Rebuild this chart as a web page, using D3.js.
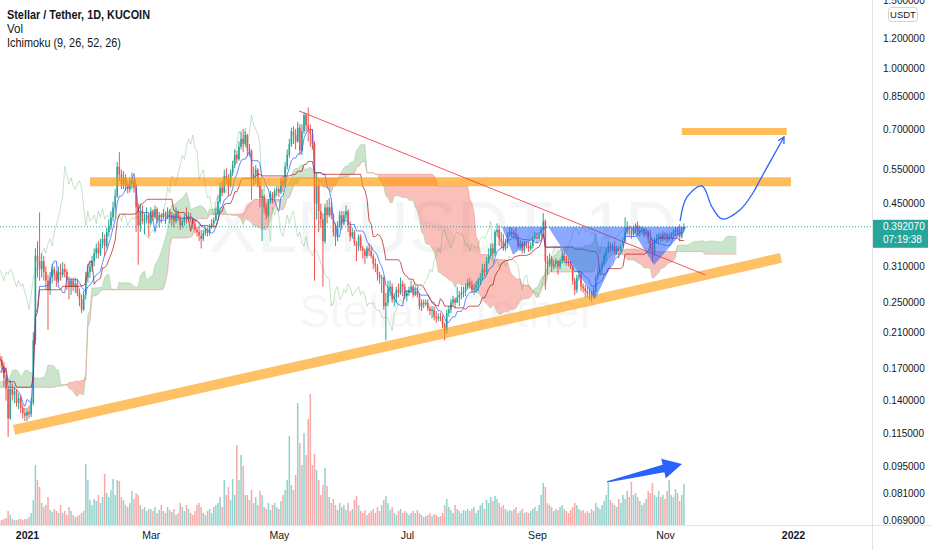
<!DOCTYPE html>
<html><head><meta charset="utf-8">
<script src="https://cdn.jsdelivr.net/npm/d3@7"></script>
<style>
html,body{margin:0;padding:0;background:#fff;}
svg{display:block;}
text{font-family:"Liberation Sans", Arial, sans-serif;}
</style></head><body>
<svg id="chart" width="932" height="550"></svg>
<script>
// ---------------- DATA ----------------
const startDate = "2020-12-19";
const firstOpen = 0.182;
const closes = [
0.178,0.172,0.160,0.150,0.126,0.150,0.145,0.148,0.138,0.142,0.134,0.130,0.128,
0.131,0.129,0.138,0.200,0.330,0.320,0.305,0.320,0.300,0.285,0.270,0.290,0.305,0.295,0.285,0.300,0.295,0.305,0.300,0.285,0.275,0.285,0.275,0.280,0.265,0.255,0.240,0.262,0.290,0.300,0.310,
0.320,0.335,0.345,0.335,0.355,0.365,0.350,0.380,0.395,0.415,0.440,0.470,0.560,0.535,0.505,0.525,0.500,0.490,0.505,0.515,0.495,0.440,0.395,0.430,0.405,0.410,0.420,0.400,
0.430,0.415,0.435,0.410,0.420,0.415,0.425,0.415,0.430,0.410,0.420,0.405,0.425,0.415,0.395,0.405,0.415,0.410,0.418,0.410,0.398,0.385,0.380,0.372,0.365,0.378,0.385,0.378,0.392,0.400,0.408,
0.425,0.455,0.495,0.480,0.530,0.520,0.500,0.540,0.565,0.600,0.585,0.630,0.660,0.640,0.675,0.625,0.615,0.520,0.535,0.550,0.500,0.465,0.470,0.440,0.420,0.455,0.475,0.465,0.485,
0.490,0.480,0.515,0.500,0.560,0.600,0.640,0.690,0.675,0.650,0.705,0.615,0.690,0.760,0.715,0.700,0.680,0.640,0.450,0.500,0.430,0.410,0.360,0.440,0.420,0.440,0.420,0.380,0.370,0.395,0.420,
0.400,0.420,0.430,0.395,0.370,0.380,0.355,0.350,0.370,0.345,0.340,0.330,0.345,0.340,0.330,0.315,0.310,0.295,0.290,0.290,0.245,0.250,0.270,0.275,0.255,0.258,0.270,0.265,0.280,0.275,
0.260,0.265,0.270,0.275,0.262,0.268,0.262,0.245,0.250,0.248,0.250,0.242,0.238,0.240,0.230,0.228,0.230,0.228,0.220,0.212,0.235,0.240,0.250,0.255,0.250,0.258,0.262,0.265,0.268,0.275,0.282,
0.278,0.270,0.272,0.278,0.285,0.290,0.305,0.300,0.320,0.330,0.345,0.335,0.380,0.385,0.365,0.360,0.345,0.355,0.375,0.380,0.375,0.378,0.370,0.350,0.355,0.340,0.355,0.350,0.345,0.350,
0.365,0.370,0.365,0.375,0.385,0.405,0.320,0.315,0.325,0.310,0.315,0.320,0.310,0.320,0.330,0.325,0.320,0.318,0.310,0.285,0.270,0.290,0.295,0.275,0.272,0.268,0.265,0.265,0.258,0.268,
0.290,0.300,0.305,0.315,0.330,0.340,0.350,0.345,0.350,0.340,0.345,0.340,0.350,0.360,0.380,0.390,0.385,0.375,0.385,0.395,0.380,0.382,0.385,0.375,0.380,0.365,0.350,0.335,0.362,0.365,0.372,
0.365,0.375,0.372,0.366,0.370,0.375,0.380,0.386,0.380,0.370,0.385,0.39207
];
const highs = [
0.186,0.182,0.176,0.163,0.152,0.158,0.155,0.152,0.150,0.146,0.144,0.137,0.134,
0.134,0.136,0.142,0.210,0.345,0.360,0.427,0.335,0.330,0.310,0.295,0.300,0.315,0.310,0.302,0.310,0.315,0.318,0.315,0.305,0.292,0.290,0.290,0.290,0.288,0.272,0.262,0.268,0.300,0.315,0.320,
0.330,0.345,0.355,0.360,0.365,0.380,0.375,0.390,0.410,0.430,0.455,0.490,0.575,0.610,0.550,0.545,0.535,0.515,0.525,0.540,0.525,0.505,0.450,0.450,0.445,0.425,0.440,0.425,
0.440,0.435,0.445,0.440,0.428,0.425,0.435,0.430,0.440,0.436,0.428,0.425,0.440,0.432,0.420,0.412,0.422,0.440,0.428,0.425,0.415,0.405,0.392,0.395,0.385,0.385,0.392,0.390,0.398,0.410,0.415,
0.440,0.470,0.510,0.515,0.550,0.555,0.535,0.550,0.580,0.620,0.615,0.650,0.690,0.700,0.690,0.680,0.640,0.620,0.560,0.565,0.555,0.525,0.490,0.475,0.450,0.462,0.485,0.482,0.492,
0.500,0.498,0.525,0.530,0.575,0.620,0.660,0.705,0.710,0.700,0.730,0.720,0.720,0.775,0.770,0.795,0.720,0.700,0.650,0.540,0.520,0.450,0.425,0.450,0.460,0.465,0.455,0.425,0.400,0.405,0.430,
0.430,0.430,0.445,0.435,0.405,0.390,0.385,0.360,0.375,0.375,0.350,0.345,0.350,0.355,0.348,0.335,0.325,0.315,0.300,0.295,0.292,0.265,0.285,0.285,0.280,0.265,0.275,0.280,0.290,0.285,
0.280,0.270,0.275,0.285,0.278,0.275,0.275,0.265,0.255,0.255,0.255,0.255,0.245,0.245,0.245,0.238,0.235,0.236,0.232,0.222,0.240,0.245,0.255,0.260,0.258,0.275,0.268,0.275,0.275,0.280,0.288,
0.290,0.285,0.280,0.285,0.290,0.298,0.315,0.315,0.328,0.345,0.355,0.355,0.385,0.400,0.395,0.380,0.375,0.365,0.380,0.392,0.390,0.385,0.390,0.375,0.362,0.360,0.360,0.360,0.360,0.358,
0.370,0.380,0.378,0.380,0.390,0.425,0.410,0.330,0.335,0.330,0.322,0.325,0.322,0.325,0.335,0.340,0.330,0.325,0.322,0.312,0.290,0.295,0.300,0.300,0.280,0.278,0.275,0.272,0.268,0.275,
0.295,0.310,0.312,0.320,0.335,0.345,0.360,0.358,0.355,0.360,0.350,0.350,0.355,0.368,0.415,0.405,0.395,0.392,0.395,0.400,0.405,0.395,0.392,0.390,0.388,0.385,0.385,0.365,0.368,0.375,0.378,
0.378,0.382,0.380,0.378,0.378,0.380,0.386,0.393,0.392,0.398,0.392,0.400
];
const lows = [
0.170,0.165,0.152,0.140,0.113,0.125,0.140,0.138,0.135,0.133,0.130,0.126,0.124,
0.124,0.126,0.127,0.136,0.195,0.290,0.285,0.290,0.285,0.270,0.213,0.262,0.280,0.285,0.275,0.282,0.285,0.290,0.290,0.270,0.255,0.262,0.268,0.265,0.260,0.245,0.235,0.238,0.255,0.282,0.290,
0.300,0.310,0.325,0.325,0.330,0.345,0.330,0.345,0.370,0.385,0.405,0.430,0.465,0.515,0.490,0.490,0.485,0.478,0.480,0.490,0.480,0.380,0.313,0.380,0.398,0.375,0.400,0.370,
0.395,0.405,0.410,0.400,0.390,0.400,0.410,0.398,0.410,0.400,0.395,0.390,0.400,0.405,0.385,0.390,0.395,0.400,0.405,0.402,0.388,0.378,0.370,0.360,0.345,0.360,0.372,0.370,0.372,0.388,0.390,
0.405,0.420,0.450,0.470,0.478,0.505,0.470,0.495,0.530,0.555,0.570,0.580,0.620,0.610,0.630,0.595,0.595,0.460,0.500,0.505,0.495,0.440,0.360,0.425,0.410,0.415,0.450,0.450,0.455,
0.470,0.468,0.475,0.482,0.495,0.550,0.590,0.630,0.640,0.620,0.645,0.600,0.600,0.680,0.690,0.650,0.630,0.620,0.285,0.410,0.380,0.390,0.275,0.355,0.400,0.415,0.410,0.370,0.350,0.360,0.390,
0.385,0.395,0.410,0.380,0.360,0.365,0.350,0.320,0.340,0.340,0.325,0.315,0.325,0.330,0.325,0.305,0.300,0.285,0.280,0.265,0.240,0.200,0.245,0.260,0.250,0.245,0.250,0.258,0.262,0.260,
0.255,0.252,0.260,0.265,0.258,0.260,0.258,0.240,0.238,0.242,0.245,0.238,0.232,0.228,0.225,0.222,0.224,0.224,0.215,0.200,0.208,0.230,0.235,0.245,0.242,0.250,0.245,0.255,0.258,0.260,0.270,
0.272,0.265,0.262,0.265,0.268,0.278,0.285,0.292,0.295,0.315,0.325,0.325,0.330,0.370,0.350,0.345,0.340,0.340,0.345,0.370,0.368,0.365,0.362,0.345,0.340,0.335,0.335,0.345,0.338,0.340,
0.345,0.360,0.355,0.360,0.370,0.380,0.270,0.295,0.310,0.300,0.305,0.308,0.295,0.305,0.315,0.320,0.312,0.310,0.305,0.278,0.262,0.265,0.285,0.268,0.265,0.258,0.258,0.255,0.252,0.256,
0.265,0.285,0.295,0.298,0.310,0.320,0.335,0.338,0.340,0.335,0.332,0.325,0.335,0.345,0.355,0.375,0.370,0.365,0.370,0.378,0.372,0.370,0.375,0.368,0.370,0.355,0.340,0.318,0.330,0.355,0.355,
0.358,0.360,0.362,0.358,0.360,0.365,0.370,0.372,0.372,0.360,0.366,0.380
];
const volumes = [
4,5,6,7,14,10,6,5,5,6,6,5,6,
6,8,12,25,60,45,38,22,18,20,28,15,13,16,14,12,20,12,14,10,18,14,10,8,9,10,12,14,61,45,25,
20,26,24,30,22,28,51,32,28,35,46,30,45,44,28,25,20,18,22,34,26,32,30,20,16,18,14,16,
16,14,18,12,15,20,14,12,18,15,13,16,10,12,22,18,14,20,16,12,10,14,20,22,18,12,10,14,16,12,18,
20,22,28,18,45,30,38,25,46,30,80,45,70,59,30,30,25,35,22,28,20,34,30,18,16,22,15,20,22,
18,16,24,30,35,45,89,40,35,50,122,82,60,92,70,106,131,60,71,55,45,30,40,57,39,28,22,26,20,15,22,
18,20,15,22,14,16,25,29,20,14,12,15,10,12,14,16,12,18,14,20,25,29,22,15,18,12,10,14,16,12,
14,12,10,12,14,12,15,12,10,8,9,10,12,9,11,10,8,9,12,20,26,18,15,12,20,16,14,12,15,14,16,
14,16,18,12,15,20,22,16,25,22,28,24,29,26,22,18,20,16,14,15,14,16,18,12,14,16,12,13,12,14,
16,18,14,20,30,42,38,22,20,18,14,16,15,18,20,16,14,12,15,18,22,20,16,14,15,12,14,12,16,14,
22,18,16,20,24,30,42,25,22,20,18,26,22,30,26,34,28,43,30,32,28,24,20,22,26,34,32,42,30,28,34,
28,30,26,34,45,30,28,36,32,24,30,41
];
// bars before the first visible candle (Oct 3 - Dec 18, 2020), used only for Ichimoku
const preHighs = [
0.080,0.079,0.080,0.081,0.080,0.081,0.082,0.083,0.082,0.083,0.082,0.081,0.080,0.079,0.079,0.080,0.080,0.079,0.080,0.081,0.082,0.083,0.082,0.081,0.080,0.079,0.078,0.078,0.079,
0.080,0.079,0.080,0.081,0.083,0.086,0.088,0.087,0.089,0.090,0.088,0.090,0.092,0.091,0.093,0.095,0.098,0.100,0.102,0.110,0.140,0.165,0.190,0.230,0.220,0.185,0.170,0.180,0.200,0.195,
0.200,0.175,0.180,0.178,0.172,0.175,0.172,0.168,0.158,0.155,0.152,0.158,0.165,0.165,0.168,0.178,0.190,0.188
];
const preLows = [
0.076,0.075,0.076,0.077,0.076,0.077,0.078,0.079,0.079,0.079,0.078,0.077,0.076,0.075,0.075,0.076,0.076,0.075,0.075,0.077,0.078,0.079,0.078,0.077,0.076,0.075,0.074,0.073,0.075,
0.075,0.075,0.076,0.077,0.078,0.081,0.083,0.082,0.084,0.085,0.084,0.085,0.087,0.086,0.088,0.090,0.092,0.094,0.096,0.100,0.108,0.132,0.150,0.170,0.170,0.130,0.140,0.155,0.165,0.170,
0.165,0.160,0.165,0.155,0.155,0.165,0.160,0.148,0.145,0.145,0.140,0.145,0.152,0.155,0.155,0.160,0.170,0.172
];
const priceTicks = [1.5,1.2,1.0,0.85,0.7,0.55,0.45,0.31,0.25,0.21,0.17,0.14,0.115,0.095,0.081,0.069];
const timeTicks = [["2021-01-01","2021",true],["2021-03-01","Mar",false],["2021-05-01","May",false],["2021-07-01","Jul",false],["2021-09-01","Sep",false],["2021-11-01","Nov",false],["2022-01-01","2022",true]];
const lastPrice = 0.39207, countdown = "07:19:38";
const ichimokuParams = [9, 26, 52, 26];
// drawings: [day offset from 2021-01-01, price]
const supplyZone = [[30,0.512],[364,0.512]];
const targetZone = [[312,0.69],[362,0.69]];
const supportLine = [[-6.2,0.1177],[359.3,0.326]];
const resistanceLine = [[129.6,0.779],[323.1,0.295]];
const hsPattern = [[226.3,0.392],[231.6,0.332],[248.3,0.392],[270.7,0.2556],[287.3,0.392],[298.8,0.3127],[314.5,0.392]];
const projection = [[311.2,0.4058],[314.5,0.468],[321.6,0.4993],[326.4,0.4409],[331.2,0.4107],[339.7,0.4332],[345.9,0.479],[349.3,0.5175],[360.7,0.6676]];
const volumeArrow = [[276.4,0.0865],[312.1,0.0961]];

// ---------------- CHART ----------------
if (highs.length!==closes.length||lows.length!==closes.length||volumes.length!==closes.length||preHighs.length!==preLows.length)
  throw new Error("length mismatch "+[closes.length,highs.length,lows.length,volumes.length,preHighs.length,preLows.length]);

const plotR = 872, plotB = 525;
const svg = d3.select("#chart");
const parse = d3.utcParse("%Y-%m-%d");
const start = parse(startDate);
const N = closes.length;
const dateAt = i => d3.utcDay.offset(start, i);
const dayDate = d => new Date(Date.UTC(2021,0,1) + d*864e5);
const opens = closes.map((c,i)=> i===0 ? firstOpen : closes[i-1]);

const x = d3.scaleUtc().domain([parse("2021-01-01"), parse("2022-01-01")]).range([27, 793]);
const y = d3.scaleLog().domain([0.069, 1.2]).range([520, 38]);
const vy = d3.scaleLinear().domain([0, d3.max(volumes)]).range([plotB, 394]);

svg.append("rect").attr("width",932).attr("height",550).attr("fill","#fff");
svg.append("defs").append("clipPath").attr("id","plot").append("rect").attr("x",0).attr("y",0).attr("width",plotR).attr("height",plotB);
const g = svg.append("g").attr("clip-path","url(#plot)");

// watermark
g.append("text").attr("x",443).attr("y",252).attr("text-anchor","middle").attr("font-size",72)
  .attr("fill","rgba(120,123,134,0.08)").text("XLMUSDT, 1D");
g.append("text").attr("x",447).attr("y",327).attr("text-anchor","middle").attr("font-size",46)
  .attr("fill","rgba(120,123,134,0.08)").text("Stellar / Tether");

// Ichimoku
const [convLen, baseLen, spanBLen, disp] = ichimokuParams;
const P = preHighs.length;
const allH = preHighs.concat(highs), allL = preLows.concat(lows);
function donchian(n, k){
  if (k-n+1 < 0 || k >= allH.length) return null;
  let hi=-Infinity, lo=Infinity;
  for (let j=k-n+1;j<=k;j++){ if(allH[j]>hi)hi=allH[j]; if(allL[j]<lo)lo=allL[j]; }
  return (hi+lo)/2;
}
const conv = d3.range(N).map(i=>({d:dateAt(i), v:donchian(convLen,P+i)}));
const base = d3.range(N).map(i=>({d:dateAt(i), v:donchian(baseLen,P+i)}));
const off = disp-1;
const cloud = d3.range(N+off).map(m=>{
  const s = P + m - off;
  const c = donchian(convLen,s), b = donchian(baseLen,s), l2 = donchian(spanBLen,s);
  return {d:dateAt(m), a:(c!=null&&b!=null)?(c+b)/2:null, b:l2};
}).filter(p=>p.a!=null && p.b!=null);
const lag = d3.range(off, N).map(i=>({d:dateAt(i-off), v:closes[i]}));

const areaG = d3.area().x(p=>x(p.d)).y0(p=>y(p.b)).y1(p=>y(Math.max(p.a,p.b)));
const areaR = d3.area().x(p=>x(p.d)).y0(p=>y(p.a)).y1(p=>y(Math.max(p.a,p.b)));
g.append("path").attr("d",areaG(cloud)).attr("fill","rgba(67,160,71,0.28)");
g.append("path").attr("d",areaR(cloud)).attr("fill","rgba(244,67,54,0.34)");
const ln = (acc)=> d3.line().x(p=>x(p.d)).y(p=>y(acc(p)));
g.append("path").attr("d",ln(p=>p.a)(cloud)).attr("fill","none").attr("stroke","#A5D6A7").attr("stroke-width",1).attr("opacity",0.7);
g.append("path").attr("d",ln(p=>p.b)(cloud)).attr("fill","none").attr("stroke","#EF9A9A").attr("stroke-width",1).attr("opacity",0.7);

// volume
const bw = 1.5;
g.append("g").selectAll("rect").data(volumes).join("rect")
  .attr("x",(v,i)=>x(dateAt(i))-bw/2).attr("width",bw)
  .attr("y",v=>vy(v)).attr("height",v=>plotB-vy(v))
  .attr("fill",(v,i)=> closes[i]>=opens[i] ? "rgba(38,166,154,0.5)" : "rgba(239,83,80,0.5)");

// candles
const cg = g.append("g");
d3.range(N).forEach(i=>{
  const cx = x(dateAt(i)), o=opens[i], c=closes[i];
  const col = c>=o ? "#26a69a" : "#ef5350";
  const hi = Math.max(highs[i],o,c), lo = Math.min(lows[i],o,c);
  cg.append("line").attr("x1",cx).attr("x2",cx).attr("y1",y(hi)).attr("y2",y(lo)).attr("stroke",col).attr("stroke-width",1);
  const yt = y(Math.max(o,c)), yb = y(Math.min(o,c));
  cg.append("rect").attr("x",cx-0.8).attr("width",1.6).attr("y",yt).attr("height",Math.max(1,yb-yt)).attr("fill",col);
});

// ichimoku lines
g.append("path").attr("d",ln(p=>p.v)(lag)).attr("fill","none").attr("stroke","#43A047").attr("stroke-width",1).attr("opacity",0.3);
g.append("path").attr("d",ln(p=>p.v)(conv.filter(p=>p.v!=null))).attr("fill","none").attr("stroke","#2962FF").attr("stroke-width",1).attr("opacity",0.75);
g.append("path").attr("d",ln(p=>p.v)(base.filter(p=>p.v!=null))).attr("fill","none").attr("stroke","#B71C1C").attr("stroke-width",1).attr("opacity",0.75);

// last price line
g.append("line").attr("x1",0).attr("x2",plotR).attr("y1",y(lastPrice)).attr("y2",y(lastPrice))
  .attr("stroke","#26a69a").attr("stroke-width",1).attr("stroke-dasharray","1,2");

// drawings
const px = p => [x(dayDate(p[0])), y(p[1])];
const seg = (pts, w, col) => {
  const a = px(pts[0]), b = px(pts[1]);
  g.append("line").attr("x1",a[0]).attr("y1",a[1]).attr("x2",b[0]).attr("y2",b[1]).attr("stroke",col).attr("stroke-width",w);
};
seg(supplyZone, 9, "rgba(255,152,0,0.65)");
seg(targetZone, 7, "rgba(255,152,0,0.65)");
seg(supportLine, 10, "rgba(255,152,0,0.6)");
seg(resistanceLine, 1, "rgba(242,54,69,0.85)");
g.append("path").attr("d", d3.line()(hsPattern.map(px))+"Z").attr("fill","rgba(41,98,255,0.55)");
const projPts = projection.map(px);
g.append("path").attr("d", d3.line().curve(d3.curveCatmullRom.alpha(0.5))(projPts))
  .attr("fill","none").attr("stroke","#2962ff").attr("stroke-width",1.3);
{ // open arrow head at the end of the projection
  const e = projPts[projPts.length-1], p = projPts[projPts.length-2];
  const ang = Math.atan2(e[1]-p[1], e[0]-p[0]);
  const L = 7, sp = 0.5;
  const h1 = [e[0]-L*Math.cos(ang-sp), e[1]-L*Math.sin(ang-sp)];
  const h2 = [e[0]-L*Math.cos(ang+sp), e[1]-L*Math.sin(ang+sp)];
  g.append("path").attr("d", d3.line()([h1,e,h2])).attr("fill","none").attr("stroke","#2962ff").attr("stroke-width",1.3);
}
{ // filled arrow in the volume pane
  const t = px(volumeArrow[0]), e = px(volumeArrow[1]);
  const dx=e[0]-t[0], dy=e[1]-t[1], len=Math.hypot(dx,dy);
  const u=[dx/len,dy/len], n=[-u[1],u[0]];
  const hl=19, hw=10, sw=3.8, tw=0.6;
  const B=[e[0]-u[0]*hl, e[1]-u[1]*hl];
  const P2 = (o,k)=>[o[0]+n[0]*k, o[1]+n[1]*k];
  g.append("path").attr("d", d3.line()([P2(t,tw),P2(B,sw),P2(B,hw),e,P2(B,-hw),P2(B,-sw),P2(t,-tw)])+"Z").attr("fill","#2962ff");
}

// legend
const leg = svg.append("g").attr("fill","#131722");
leg.append("text").attr("x",7).attr("y",19).attr("font-size",12).attr("font-weight","bold")
  .attr("textLength",143).attr("lengthAdjust","spacingAndGlyphs").text("Stellar / Tether, 1D, KUCOIN");
leg.append("text").attr("x",7).attr("y",33).attr("font-size",12)
  .attr("textLength",16).attr("lengthAdjust","spacingAndGlyphs").text("Vol");
leg.append("text").attr("x",7).attr("y",47).attr("font-size",12)
  .attr("textLength",114).attr("lengthAdjust","spacingAndGlyphs").text("Ichimoku (9, 26, 52, 26)");

// axes
svg.append("line").attr("x1",plotR+0.5).attr("x2",plotR+0.5).attr("y1",0).attr("y2",550).attr("stroke","#e0e3eb");
svg.append("line").attr("x1",0).attr("x2",932).attr("y1",plotB+0.5).attr("y2",plotB+0.5).attr("stroke","#e0e3eb");

const ya = svg.append("g").attr("transform",`translate(883,0)`)
  .call(d3.axisRight(y).tickValues(priceTicks).tickFormat(d3.format(".6f")).tickSize(0).tickPadding(0));
ya.select(".domain").remove();
ya.selectAll("text").attr("font-size",10).attr("fill","#131722").attr("font-family","Liberation Sans, Arial, sans-serif");

const xa = svg.append("g").attr("transform",`translate(0,532)`)
  .call(d3.axisBottom(x).tickValues(timeTicks.map(t=>parse(t[0]))).tickFormat((d,i)=>timeTicks[i][1]).tickSize(0).tickPadding(0));
xa.select(".domain").remove();
xa.selectAll("text").attr("font-size",10.5).attr("fill","#131722").attr("font-family","Liberation Sans, Arial, sans-serif")
  .attr("font-weight",(d,i)=>timeTicks[i][2]?"bold":"normal");

// USDT badge
svg.append("rect").attr("x",888.5).attr("y",7.5).attr("width",29).attr("height",14).attr("rx",3)
  .attr("fill","#fff").attr("stroke","#d1d4dc");
svg.append("text").attr("x",903).attr("y",18).attr("text-anchor","middle").attr("font-size",9.5).attr("fill","#131722").text("USDT");

// last price label
const ly = y(lastPrice);
svg.append("rect").attr("x",plotR+1).attr("y",ly-7).attr("width",55).attr("height",28).attr("fill","#26a69a");
svg.append("text").attr("x",883).attr("y",ly+3.5).attr("font-size",10).attr("fill","#fff").text(d3.format(".6f")(lastPrice));
svg.append("text").attr("x",883).attr("y",ly+16.5).attr("font-size",10).attr("fill","#fff").text(countdown);
</script>
</body></html>
